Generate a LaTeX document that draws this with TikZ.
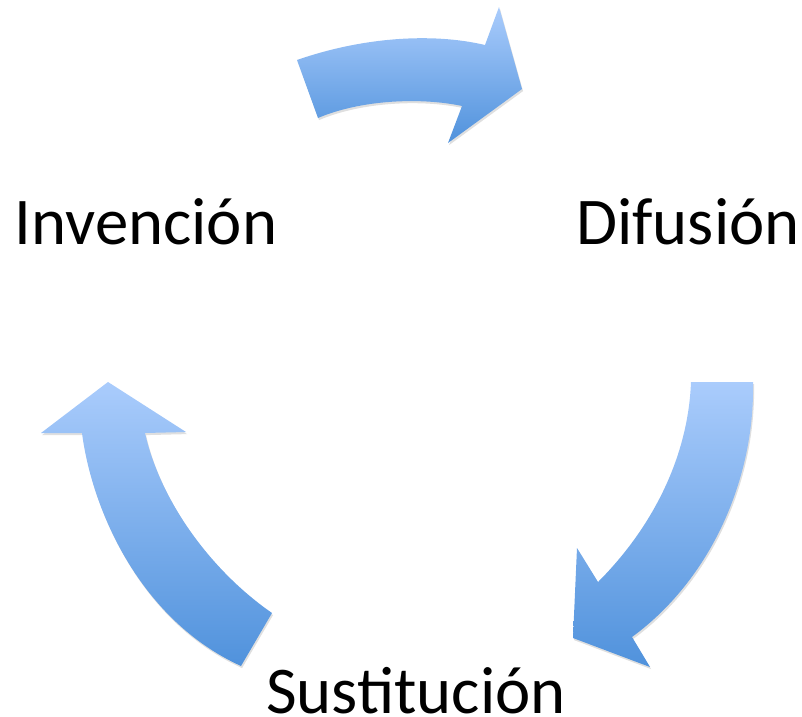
\documentclass[tikz,border=0pt]{standalone}
\usepackage{fontspec}
\setmainfont{Carlito}
\usetikzlibrary{shadows}
\definecolor{arrowtop}{RGB}{170,204,252}
\definecolor{arrowbot}{RGB}{80,146,220}
\tikzset{
 cyclearrow/.style={top color=arrowtop,bottom color=arrowbot,draw=none,
  drop shadow={opacity=0.25,shadow xshift=0.6pt,shadow yshift=-1.2pt}},
 stagetext/.style={font=\fontsize{38}{46}\selectfont,inner sep=0pt,anchor=base}
}
\begin{document}
\begin{tikzpicture}[x=0.02cm,y=-0.02cm]
 \useasboundingbox (0,0) rectangle (802,717);
 % arrows
 \path[cyclearrow](297,60) .. controls (360,38) and (430,32) .. (485,45)--(499,7)--(522,89)--(448,143)--(462,106) .. controls (420,97) and (360,100) .. (318,118)--cycle;
 \path[cyclearrow](691,382)--(753,382) .. controls (755,480) and (710,580) .. (632,637)--(650,667)--(573,638)--(577,548)--(598,582) .. controls (650,530) and (688,460) .. (691,382)--cycle;
 \path[cyclearrow](272,613)--(241,666) .. controls (140,620) and (92,510) .. (82,433)--(41,433)--(108,382)--(186,432)--(145,433) .. controls (160,500) and (210,570) .. (272,613)--cycle;
 % stages
 \node[stagetext] (inv) at (146,244) {Invención};
 \node[stagetext] (dif) at (688,244) {Difusión};
 \node[stagetext] (sus) at (416,713) {Sustitución};
\end{tikzpicture}
\end{document}
